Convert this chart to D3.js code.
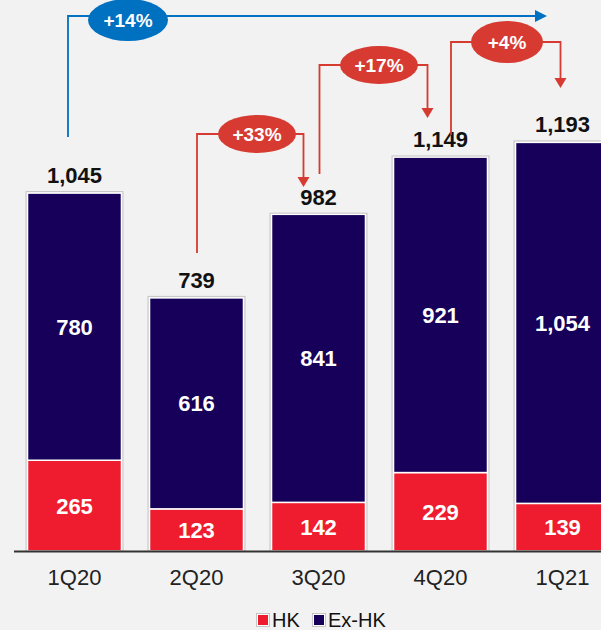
<!DOCTYPE html>
<html>
<head>
<meta charset="utf-8">
<script src="https://cdn.jsdelivr.net/npm/d3@7"></script>
<style>
  html, body { margin: 0; padding: 0; background: #f2f2f2; }
  svg { display: block; font-family: "Liberation Sans", Arial, sans-serif; }
</style>
</head>
<body>
<div id="chart"></div>
<script>
// Data
const quarters = ['1Q20', '2Q20', '3Q20', '4Q20', '1Q21'];
const hk = [265, 123, 142, 229, 139];
const exHk = [780, 616, 841, 921, 1054];
const totals = [1045, 739, 982, 1149, 1193];
const qoqGrowth = ['+33%', '+17%', '+4%'];   // 2Q20->3Q20, 3Q20->4Q20, 4Q20->1Q21
const yoyGrowth = '+14%';                    // 1Q20->1Q21
const seriesNames = ['HK', 'Ex-HK'];

const W = 601, H = 630;
const COLORS = { HK: '#ee1c2e', 'Ex-HK': '#16005a' };
const RED = '#d63a31', BLUE = '#0070c0';
const BASE = 551;

const svg = d3.select('#chart').append('svg')
    .attr('width', W).attr('height', H);

svg.append('rect').attr('width', W).attr('height', H).attr('fill', '#f2f2f2');

const x = d3.scaleBand()
    .domain(quarters)
    .range([13.5, 623.5])
    .paddingInner(0.23)
    .paddingOuter(0.115);

const y = d3.scaleLinear()
    .domain([0, 1200])
    .range([BASE, 140]);

const rows = quarters.map((q, i) => ({ q, HK: hk[i], 'Ex-HK': exHk[i], total: totals[i] }));
const stacked = d3.stack().keys(seriesNames)(rows);

// bars
const g = svg.append('g');
stacked.forEach(layer => {
    g.append('g').selectAll('rect')
        .data(layer)
        .join('rect')
        .attr('x', d => x(d.data.q))
        .attr('y', d => y(d[1]))
        .attr('width', x.bandwidth())
        .attr('height', d => y(d[0]) - y(d[1]))
        .attr('fill', COLORS[layer.key])
        .attr('stroke', '#fff')
        .attr('stroke-width', 1.5);
});

// outer grey outline
g.append('g').selectAll('rect')
    .data(rows)
    .join('rect')
    .attr('x', d => x(d.q) - 1.5)
    .attr('y', d => y(d.total) - 1.5)
    .attr('width', x.bandwidth() + 3)
    .attr('height', d => BASE - y(d.total) + 1.5)
    .attr('fill', 'none')
    .attr('stroke', '#c4c4c4')
    .attr('stroke-width', 1);

// segment labels
stacked.forEach(layer => {
    g.append('g').selectAll('text')
        .data(layer)
        .join('text')
        .attr('x', d => x(d.data.q) + x.bandwidth() / 2)
        .attr('y', d => (y(d[0]) + y(d[1])) / 2)
        .attr('dy', '0.36em')
        .attr('text-anchor', 'middle')
        .attr('fill', '#fff')
        .attr('font-weight', 'bold')
        .attr('font-size', 22)
        .text(d => d3.format(',')(d[1] - d[0]));
});

// totals
g.append('g').selectAll('text')
    .data(rows)
    .join('text')
    .attr('x', d => x(d.q) + x.bandwidth() / 2)
    .attr('y', d => y(d.total) - 10)
    .attr('text-anchor', 'middle')
    .attr('fill', '#111')
    .attr('font-weight', 'bold')
    .attr('font-size', 22)
    .text(d => d3.format(',')(d.total));

// x axis
const axis = svg.append('g')
    .attr('transform', `translate(0,${BASE})`)
    .call(d3.axisBottom(x).tickSize(0).tickPadding(18));
axis.select('.domain').remove();
axis.selectAll('text')
    .attr('font-size', 22)
    .attr('fill', '#222')
    .attr('font-family', '"Liberation Sans", Arial, sans-serif');
svg.append('line')
    .attr('x1', 14).attr('x2', W)
    .attr('y1', BASE + 0.5).attr('y2', BASE + 0.5)
    .attr('stroke', '#333').attr('stroke-width', 2);

// growth annotations
function arrowHead(sel, tx, ty, color, dir) {
    const pts = dir === 'down'
        ? [[tx, ty], [tx - 6, ty - 10], [tx + 6, ty - 10]]
        : [[tx, ty], [tx - 12, ty - 6], [tx - 12, ty + 6]];
    sel.append('polygon')
        .attr('points', pts.map(p => p.join(',')).join(' '))
        .attr('fill', color);
}

function bubble(sel, cx, cy, rx, ry, color, label) {
    sel.append('ellipse')
        .attr('cx', cx).attr('cy', cy).attr('rx', rx).attr('ry', ry)
        .attr('fill', color);
    sel.append('text')
        .attr('x', cx).attr('y', cy).attr('dy', '0.36em')
        .attr('text-anchor', 'middle')
        .attr('fill', '#fff')
        .attr('font-weight', 'bold')
        .attr('font-size', 19)
        .text(label);
}

const ann = svg.append('g');
const cx = q => x(q) + x.bandwidth() / 2;

// quarter-on-quarter layout (pixel offsets)
const qoqLayout = [
    { from: 1, dx0: 0.5, dx1: -15, y0: 253, yTop: 134, yTip: 187, bx: 257, ry: 19, rx: 39 },
    { from: 2, dx0: 1, dx1: -13, y0: 174, yTop: 65, yTip: 118, bx: 379, ry: 19, rx: 39 },
    { from: 3, dx0: 10.5, dx1: -2, y0: 135, yTop: 42, yTip: 88, bx: 507, ry: 21, rx: 36 }
];
qoqLayout.forEach((a, i) => {
    const x0 = cx(quarters[a.from]) + a.dx0;
    const x1 = cx(quarters[a.from + 1]) + a.dx1;
    ann.append('path')
        .attr('d', `M${x0},${a.y0}V${a.yTop}H${x1}V${a.yTip - 8}`)
        .attr('fill', 'none')
        .attr('stroke', RED)
        .attr('stroke-width', 1.8);
    arrowHead(ann, x1, a.yTip, RED, 'down');
    bubble(ann, a.bx, a.yTop, a.rx, a.ry, RED, qoqGrowth[i]);
});

// year-on-year
{
    const x0 = cx(quarters[0]) - 6.5;
    const x1 = 547;
    ann.append('path')
        .attr('d', `M${x0},137V16H${x1 - 10}`)
        .attr('fill', 'none')
        .attr('stroke', BLUE)
        .attr('stroke-width', 1.8);
    arrowHead(ann, x1, 16, BLUE, 'right');
    bubble(ann, 128, 20, 40, 21, BLUE, yoyGrowth);
}

// legend
const legend = svg.append('g').attr('transform', 'translate(257,620)');
let lx = 0;
seriesNames.forEach(name => {
    const item = legend.append('g').attr('transform', `translate(${lx},0)`);
    item.append('rect')
        .attr('x', 0.5).attr('y', -5.5)
        .attr('width', 11).attr('height', 11)
        .attr('fill', COLORS[name])
        .attr('stroke', '#fff')
        .attr('stroke-width', 1);
    item.append('rect')
        .attr('x', -0.5).attr('y', -6.5)
        .attr('width', 13).attr('height', 13)
        .attr('fill', 'none')
        .attr('stroke', '#bbb')
        .attr('stroke-width', 0.8);
    item.append('text')
        .attr('x', 15).attr('y', 0).attr('dy', '0.36em')
        .attr('font-size', 20)
        .attr('fill', '#111')
        .text(name);
    lx += 56;
});
</script>
</body>
</html>
